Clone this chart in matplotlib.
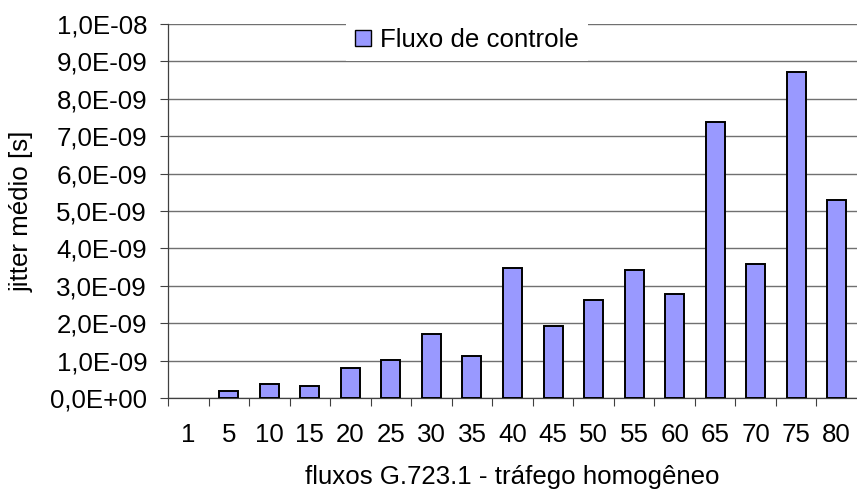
import matplotlib
matplotlib.use('Agg')
import matplotlib.pyplot as plt
from matplotlib.ticker import FuncFormatter, FixedLocator
import numpy as np

plt.rcParams['font.family'] = ['Liberation Sans', 'DejaVu Sans']

# fluxos (categorias do eixo x) e jitter médio do fluxo de controle [s]
fluxos = ['1', '5', '10', '15', '20', '25', '30', '35', '40',
          '45', '50', '55', '60', '65', '70', '75', '80']
jitter = [0.0, 0.20e-9, 0.37e-9, 0.32e-9, 0.80e-9, 1.02e-9, 1.71e-9, 1.11e-9,
          3.48e-9, 1.93e-9, 2.62e-9, 3.42e-9, 2.78e-9, 7.37e-9, 3.58e-9,
          8.72e-9, 5.29e-9]

serie = 'Fluxo de controle'
y_ticks = np.arange(0, 11) * 1e-9

FS = 18.6

fig = plt.figure(figsize=(8.57, 4.92), dpi=100)
ax = fig.add_axes([168 / 857, 1 - 398 / 492, 1 - 168 / 857, 374 / 492])

x = np.arange(len(fluxos))
bars = ax.bar(x, jitter, width=0.47, color='#9999FF', edgecolor='black',
              linewidth=1.4, label=serie, zorder=3)
# barra de altura zero não aparece no original
for b, v in zip(bars.patches, jitter):
    if v == 0:
        b.set_linewidth(0)

ax.set_xlim(-0.5, len(fluxos) - 0.5)
ax.set_ylim(0, 1e-8)

# grade horizontal
ax.yaxis.set_major_locator(FixedLocator(y_ticks))
ax.yaxis.grid(True, color='#707070', linewidth=1.0, zorder=0)
ax.set_axisbelow(True)


def fmt(v, pos):
    return f'{v:.1E}'.replace('.', ',')


ax.yaxis.set_major_formatter(FuncFormatter(fmt))
ax.tick_params(axis='y', direction='out', length=6, width=0.8,
               color='#404040', pad=9, labelsize=FS)

# rótulos no centro, marcas entre categorias
ax.set_xticks(x)
ax.set_xticklabels(fluxos)
ax.set_xticks(np.arange(len(fluxos)) - 0.5, minor=True)
ax.tick_params(axis='x', which='major', length=0, pad=18, labelsize=FS)
ax.tick_params(axis='x', which='minor', direction='out', length=6,
               width=0.8, color='#404040')

for s in ('top', 'right'):
    ax.spines[s].set_visible(False)
for s in ('left', 'bottom'):
    ax.spines[s].set_color('#404040')
    ax.spines[s].set_linewidth(0.9)

ax.set_xlabel('fluxos G.723.1 - tráfego homogêneo', fontsize=FS, labelpad=13)
ax.set_ylabel('jitter médio [s]', fontsize=FS, labelpad=12)

leg = ax.legend(loc='center', bbox_to_anchor=(0.434, 0.957), fontsize=FS,
                frameon=True, fancybox=False, framealpha=1, edgecolor='none',
                facecolor='white', handlelength=0.6, handleheight=0.6,
                handletextpad=0.35, borderpad=0.35)
for h in leg.legend_handles:
    h.set_linewidth(1.0)

fig.savefig('out.png', dpi=100)
